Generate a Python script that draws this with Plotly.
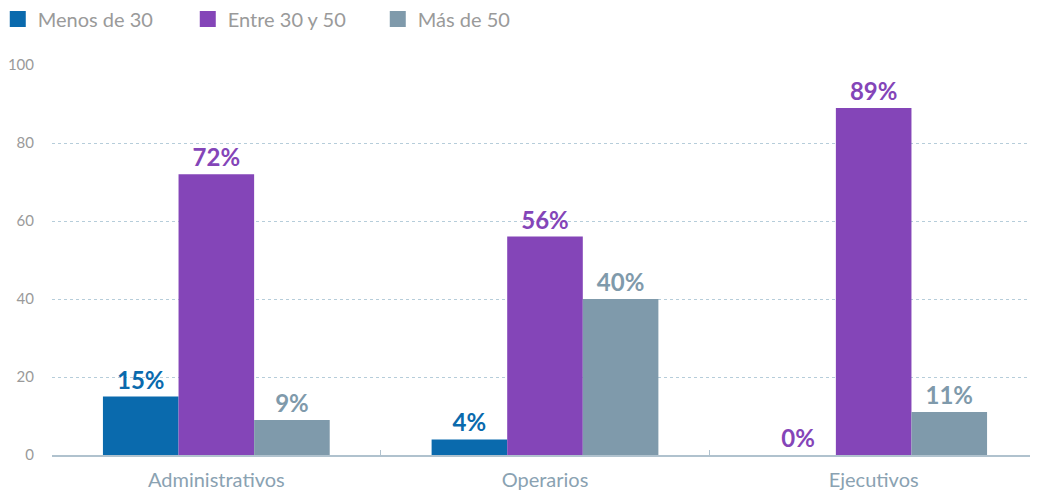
import plotly.graph_objects as go

categories = ["Administrativos", "Operarios", "Ejecutivos"]
series_names = ["Menos de 30", "Entre 30 y 50", "Más de 50"]
menos30 = [15, 4, 0]
entre30_50 = [72, 56, 89]
mas50 = [9, 40, 11]
y_ticks = [0, 20, 40, 60, 80, 100]

colors = ["#0a6aad", "#8445b8", "#7f9aab"]
values = [menos30, entre30_50, mas50]

fig = go.Figure()
for name, vals, col in zip(series_names, values, colors):
    label_colors = [col] * len(vals)
    if name == "Menos de 30":
        label_colors = [col if v > 0 else colors[1] for v in vals]
    fig.add_trace(go.Bar(
        x=categories, y=vals, name=name, showlegend=False,
        marker=dict(color=col, line=dict(width=0)),
        text=[f"{v}%" for v in vals],
        textposition="outside",
        cliponaxis=False,
        textfont=dict(family="Lato", size=24, color=label_colors, weight="bold"),
    ))
# legend entries with larger square swatches
for name, col in zip(series_names, colors):
    fig.add_trace(go.Scatter(
        x=[None], y=[None], mode="markers", name=name,
        marker=dict(symbol="square", size=16, color=col),
    ))

fig.update_layout(
    width=1030, height=486,
    margin=dict(l=44, r=0, t=57, b=39, autoexpand=False),
    barmode="group", bargap=0.31, bargroupgap=0,
    plot_bgcolor="white", paper_bgcolor="white",
    font=dict(family="Lato", color="#9a9a9a"),
    legend=dict(orientation="h", x=-0.055, xanchor="left", y=1.118, yanchor="middle",
                font=dict(size=20, color="#9a9a9a", family="Lato"),
                entrywidth=145, entrywidthmode="pixels", itemwidth=30,
                traceorder="normal", itemsizing="trace"),
    showlegend=True,
)
fig.update_yaxes(range=[0, 100], tickvals=y_ticks, showgrid=True,
                 gridcolor="#b6cdda", griddash="dot", gridwidth=1,
                 zeroline=False, showline=False,
                 tickfont=dict(size=15, color="#9a9a9a"), ticklabelstandoff=17)
fig.update_xaxes(showline=True, linecolor="#b0c2ce", linewidth=2,
                 ticks="inside", tickson="boundaries", ticklen=5, tickcolor="#b0c2ce",
                 tickfont=dict(size=20, color="#8aa2b2"), ticklabelstandoff=6)

fig.write_html("out.html")
